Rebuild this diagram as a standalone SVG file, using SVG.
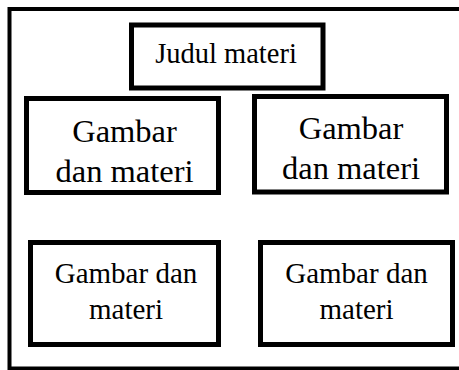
<svg xmlns="http://www.w3.org/2000/svg" width="459" height="370" viewBox="0 0 459 370">
<style>
.box{fill:#fff;stroke:#000;stroke-width:5}
.t{font-family:"Liberation Serif","Times New Roman",serif;fill:#000;text-anchor:middle}
</style>
<rect width="459" height="370" fill="#fff"/>
<g id="frame"><rect x="9.5" y="9" width="462" height="359.5" fill="none" stroke="#000" stroke-width="4"/></g>
<g id="connectors"></g>
<g id="judul">
<rect class="box" x="131.5" y="25" width="191.5" height="63" stroke-width="4.5"/>
<text class="t" x="226" y="63" font-size="28.5">Judul materi</text>
</g>
<g id="gambar1">
<rect class="box" x="26.5" y="98.5" width="192" height="94"/>
<text class="t" x="124.5" y="141.5" font-size="32.5">Gambar</text>
<text class="t" x="124.5" y="181.5" font-size="32.5">dan materi</text>
</g>
<g id="gambar2">
<rect class="box" x="254.5" y="96.5" width="192" height="95.5"/>
<text class="t" x="351" y="138.5" font-size="32.5">Gambar</text>
<text class="t" x="351" y="178.5" font-size="32.5">dan materi</text>
</g>
<g id="gambar3">
<rect class="box" x="30.5" y="242.5" width="188" height="102"/>
<text class="t" x="126" y="282.5" font-size="29">Gambar dan</text>
<text class="t" x="126" y="318.5" font-size="29">materi</text>
</g>
<g id="gambar4">
<rect class="box" x="260.5" y="242.5" width="192" height="102"/>
<text class="t" x="356.5" y="282.5" font-size="29">Gambar dan</text>
<text class="t" x="356.5" y="318.5" font-size="29">materi</text>
</g>
</svg>
